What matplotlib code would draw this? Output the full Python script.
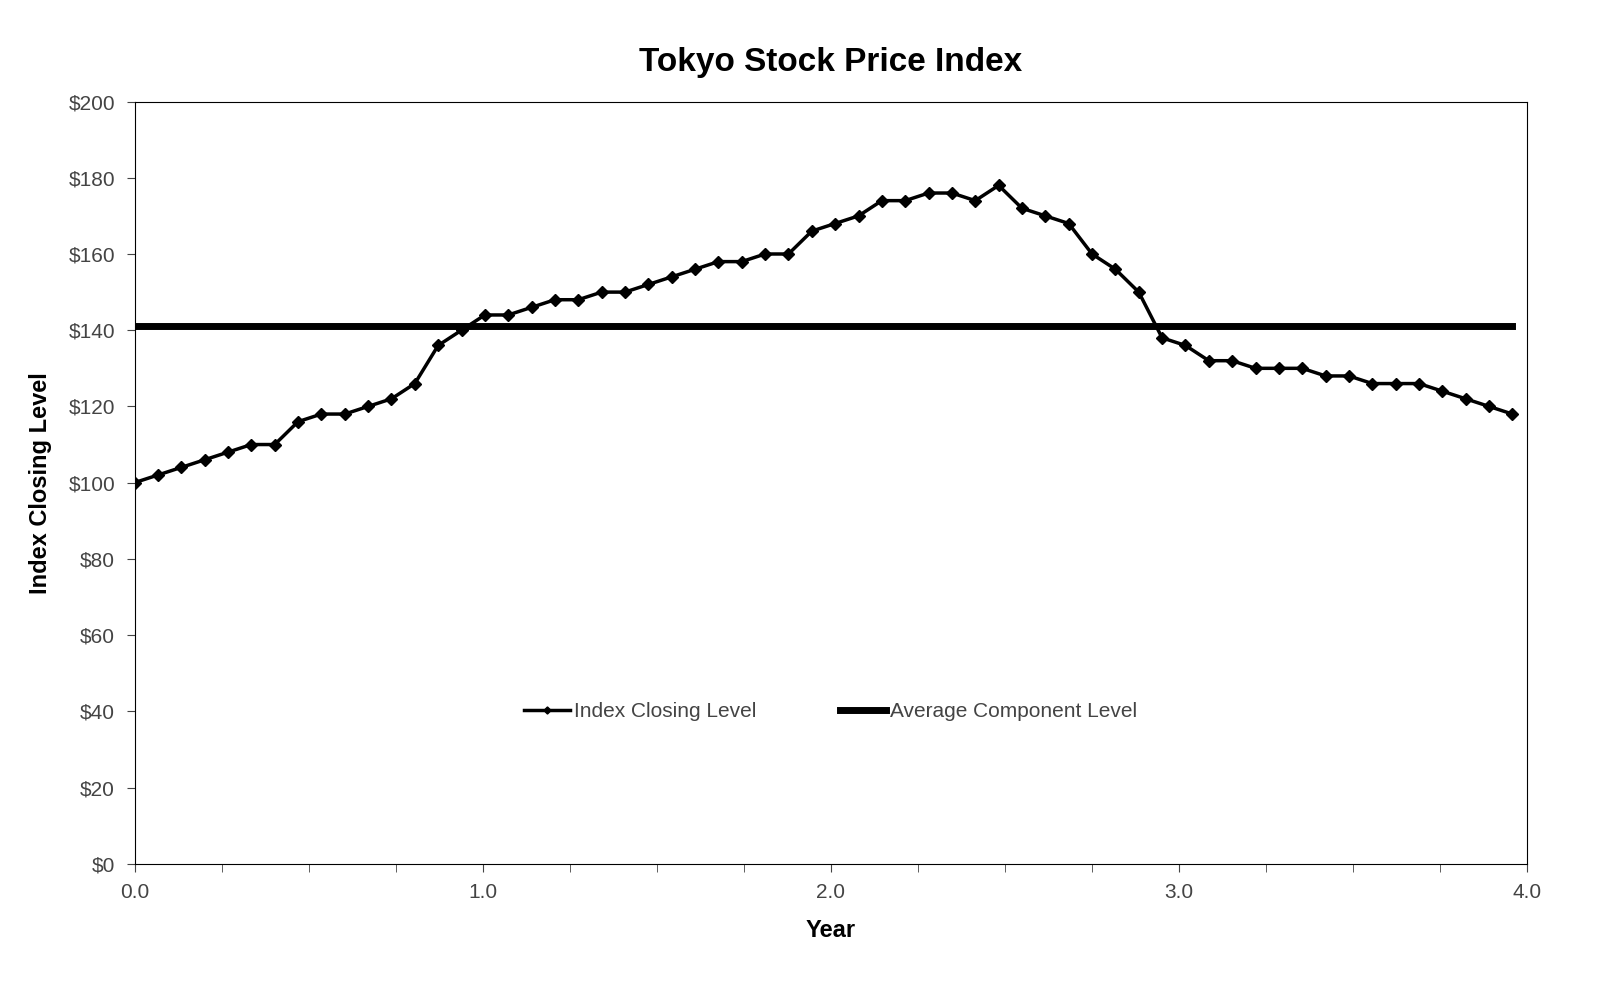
import numpy as np
import matplotlib.pyplot as plt
from matplotlib.ticker import MultipleLocator, FuncFormatter

plt.rcParams['font.family'] = ['Liberation Sans', 'DejaVu Sans']

index_level = [100, 102, 104, 106, 108, 110, 110, 116, 118, 118,
               120, 122, 126, 136, 140, 144, 144, 146, 148, 148,
               150, 150, 152, 154, 156, 158, 158, 160, 160, 166,
               168, 170, 174, 174, 176, 176, 174, 178, 172, 170,
               168, 160, 156, 150, 138, 136, 132, 132, 130, 130,
               130, 128, 128, 126, 126, 126, 124, 122, 120, 118]
step = 0.0671
years = np.arange(len(index_level)) * step
avg_level = 141

fig = plt.figure(figsize=(16.02, 9.86), dpi=100)
ax = fig.add_axes([0.084, 0.124, 0.869, 0.773])

ax.plot(years, index_level, color='black', lw=2.5, marker='D', ms=6,
        label='Index Closing Level')
ax.plot([0, years[-1]], [avg_level, avg_level], color='black', lw=5,
        label='Average Component Level')

ax.set_xlim(0, 4)
ax.set_ylim(0, 200)
ax.xaxis.set_major_locator(MultipleLocator(1))
ax.xaxis.set_minor_locator(MultipleLocator(0.25))
ax.yaxis.set_major_locator(MultipleLocator(20))
ax.xaxis.set_major_formatter(FuncFormatter(lambda v, p: f'{v:.1f}'))
ax.yaxis.set_major_formatter(FuncFormatter(lambda v, p: f'${v:.0f}'))
ax.tick_params(which='both', direction='out', colors='#444444', labelsize=15, length=6)
ax.tick_params(which='major', pad=8)
for s in ax.spines.values():
    s.set_color('black')

ax.set_title('Tokyo Stock Price Index', fontsize=24, fontweight='bold', pad=22)
ax.set_xlabel('Year', fontsize=17, fontweight='bold', labelpad=12)
ax.set_ylabel('Index Closing Level', fontsize=17, fontweight='bold', labelpad=12)

leg = ax.legend(loc='center', bbox_to_anchor=(0.5, 0.2), ncol=2, frameon=False,
                fontsize=15, handlelength=2.2, handletextpad=0.2, columnspacing=4,
                markerscale=0.6)
for t in leg.get_texts():
    t.set_color('#444444')

fig.savefig('out.png')
